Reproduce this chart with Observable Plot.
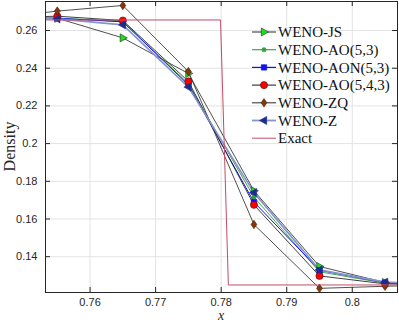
<!DOCTYPE html>
<html><head><meta charset="utf-8">
<script src="https://cdn.jsdelivr.net/npm/d3@7"></script>
<script src="https://cdn.jsdelivr.net/npm/@observablehq/plot@0.6"></script>
<style>
body{margin:0;background:#fff}
#wrap{position:relative;width:399px;height:324px}
#wrap svg{position:absolute;left:0;top:0}
</style>
</head><body><div id="wrap"></div>
<script>
// ---- data ----
const xCells = [0.745, 0.755, 0.765, 0.775, 0.785, 0.795, 0.805, 0.815];
const wenoJS   = [0.2666, 0.2665, 0.2561, 0.2372, 0.1750, 0.1348, 0.1263, 0.1254];
const wenoAO53 = [0.2666, 0.2666, 0.2648, 0.2318, 0.1716, 0.1320, 0.1259, 0.1253];
const wenoAON  = [0.2666, 0.2665, 0.2646, 0.2312, 0.1690, 0.1328, 0.1262, 0.1254];
const wenoAO543= [0.2667, 0.2676, 0.2653, 0.2330, 0.1675, 0.1298, 0.1256, 0.1253];
const wenoZQ   = [0.2664, 0.2703, 0.2733, 0.2382, 0.1571, 0.1232, 0.1243, 0.1252];
const wenoZ    = [0.2666, 0.2662, 0.2630, 0.2300, 0.1740, 0.1330, 0.1265, 0.1255];
const exactX = [0.7532, 0.7799, 0.7811, 0.8069];
const exactY = [0.2656, 0.2656, 0.1250, 0.1250];
const seriesNames = ["WENO-JS","WENO-AO(5,3)","WENO-AON(5,3)","WENO-AO(5,4,3)","WENO-ZQ","WENO-Z","Exact"];
const xTicks = [0.76, 0.77, 0.78, 0.79, 0.80];
const xTickLabels = ["0.76","0.77","0.78","0.79","0.8"];
const yTicks = [0.14, 0.16, 0.18, 0.20, 0.22, 0.24, 0.26];
const yTickLabels = ["0.14","0.16","0.18","0.2","0.22","0.24","0.26"];
const xDomain = [0.7532, 0.8069];
const yDomain = [0.1210, 0.2754];

// ---- symbols ----
const triRight = {draw(c, s){const r=Math.sqrt(s/Math.PI)*1.25; c.moveTo(r,0); c.lineTo(-r*0.6, r*0.9); c.lineTo(-r*0.6,-r*0.9); c.closePath();}};
const triLeft  = {draw(c, s){const r=Math.sqrt(s/Math.PI)*1.25; c.moveTo(-r,0); c.lineTo(r*0.6, r*0.9); c.lineTo(r*0.6,-r*0.9); c.closePath();}};
const diamond  = {draw(c, s){const r=Math.sqrt(s/Math.PI); c.moveTo(0,-r*1.25); c.lineTo(r*0.85,0); c.lineTo(0,r*1.25); c.lineTo(-r*0.85,0); c.closePath();}};
const star     = {draw(c, s){const r=Math.sqrt(s/Math.PI); c.moveTo(-r,0); c.lineTo(r,0); c.moveTo(0,-r); c.lineTo(0,r);
  const d=r*0.7; c.moveTo(-d,-d); c.lineTo(d,d); c.moveTo(-d,d); c.lineTo(d,-d);}};
const square   = {draw(c, s){const r=Math.sqrt(s/Math.PI)*0.85; c.rect(-r,-r,2*r,2*r);}};
const circle   = {draw(c, s){const r=Math.sqrt(s/Math.PI); c.moveTo(r,0); c.arc(0,0,r,0,2*Math.PI);}};

const styles = [
  {vals: wenoJS,    line:"#3c3c3c", lw:0.9, sym:triRight, fill:"#19e019", stroke:"#2a2a2a", r:3.6},
  {vals: wenoAO53,  line:"#47a447", lw:1.0, sym:star,     fill:"none",    stroke:"#2f9a2f", r:2.6},
  {vals: wenoAON,   line:"#1010f0", lw:1.0, sym:square,   fill:"#1010f0", stroke:"#1010f0", r:3.2},
  {vals: wenoAO543, line:"#2a2a2a", lw:0.9, sym:circle,   fill:"#ff0000", stroke:"#3a1a1a", r:3.6},
  {vals: wenoZQ,    line:"#3c3c3c", lw:0.9, sym:diamond,  fill:"#8a3508", stroke:"#3a2010", r:3.4},
  {vals: wenoZ,     line:"#8494cc", lw:1.6, sym:triLeft,  fill:"#1c2c8e", stroke:"#1c2c8e", r:3.6}
];

const W = 399, H = 324;
const mL = 45, mR = 2, mT = 1, mB = 32;
const ky = (H - mT - mB) / (yDomain[1] - yDomain[0]);
const kx = (W - mL - mR) / (xDomain[1] - xDomain[0]);

const marks = [
  Plot.gridX(xTicks, {stroke:"#e3e3e3", strokeOpacity:1}),
  Plot.gridY(yTicks, {stroke:"#e3e3e3", strokeOpacity:1}),
];
styles.forEach((s, i) => {
  const data = xCells.map((x, j) => ({x, y: s.vals[j]}));
  marks.push(Plot.line(data, {x:"x", y:"y", stroke:s.line, strokeWidth:s.lw, clip:true}));
});
styles.forEach((s, i) => {
  const data = xCells.map((x, j) => ({x, y: s.vals[j]})).filter(d => d.x > xDomain[0] && d.x < xDomain[1]);
  marks.push(Plot.dot(data, {x:"x", y:"y", symbol:s.sym, r:s.r, fill:s.fill, stroke:s.stroke, strokeWidth: s.sym===star?1.1:0.6}));
});
const exactData = exactX.map((x, j) => ({x, y: exactY[j]}));
marks.push(Plot.line(exactData, {x:"x", y:"y", stroke:"#c04d66", strokeWidth:1, clip:true}));
// inward ticks (box on)
const tx = 5/kx, ty = 5/ky;
marks.push(Plot.ruleX(xTicks, {y1: yDomain[0], y2: yDomain[0] + ty, stroke:"#262626"}));
marks.push(Plot.ruleX(xTicks, {y1: yDomain[1], y2: yDomain[1] - ty, stroke:"#262626"}));
marks.push(Plot.ruleY(yTicks, {x1: xDomain[0], x2: xDomain[0] + tx, stroke:"#262626"}));
marks.push(Plot.ruleY(yTicks, {x1: xDomain[1], x2: xDomain[1] - tx, stroke:"#262626"}));
marks.push(Plot.frame({stroke:"#262626", strokeWidth:1}));
marks.push(Plot.axisX(xTicks, {tickSize:0, tickPadding:6, tickFormat:(d,i)=>xTickLabels[i], label:null, fontSize:11, fill:"#262626"}));
marks.push(Plot.axisY(yTicks, {tickSize:0, tickPadding:8, tickFormat:(d,i)=>yTickLabels[i], label:null, fontSize:11, fill:"#262626"}));

const chart = Plot.plot({
  width: W, height: H,
  marginLeft: mL, marginRight: mR, marginTop: mT, marginBottom: mB,
  x: {domain: xDomain}, y: {domain: yDomain},
  style: {fontFamily: "'Liberation Sans', Arial, sans-serif", background:"transparent"},
  marks
});
document.getElementById("wrap").appendChild(chart);

// axis titles and legend overlay
const svg = d3.select("#wrap").append("svg").attr("width", W).attr("height", H).style("pointer-events","none");
svg.append("text").attr("x", (mL + W - mR)/2).attr("y", 320)
  .attr("text-anchor","middle").attr("font-family","'Liberation Serif', serif").attr("font-style","italic")
  .attr("font-size", 14).attr("fill","#262626").text("x");
svg.append("text").attr("transform", `translate(15,${(mT + H - mB)/2}) rotate(-90)`)
  .attr("text-anchor","middle").attr("font-family","'Liberation Serif', serif")
  .attr("font-size", 16).attr("fill","#262626").text("Density");

const legendY0 = 32, step = 17.7;
seriesNames.forEach((name, i) => {
  const y = legendY0 + i*step;
  const g = svg.append("g");
  if (i < styles.length) {
    const s = styles[i];
    g.append("line").attr("x1",252).attr("x2",276).attr("y1",y).attr("y2",y).attr("stroke",s.line).attr("stroke-width",s.lw+0.2);
    const p = d3.path(); s.sym.draw(p, Math.PI*s.r*s.r);
    g.append("path").attr("d", p.toString()).attr("transform",`translate(264,${y})`)
      .attr("fill", s.fill).attr("stroke", s.stroke).attr("stroke-width", s.sym===star?1.1:0.6);
  } else {
    g.append("line").attr("x1",252).attr("x2",276).attr("y1",y).attr("y2",y).attr("stroke","#c04d66").attr("stroke-width",1);
  }
  g.append("text").attr("x",278).attr("y",y).attr("dy","0.35em").attr("font-family","'Liberation Serif', serif")
    .attr("font-size",15).attr("fill","#111").text(name);
});
</script>
</body></html>
